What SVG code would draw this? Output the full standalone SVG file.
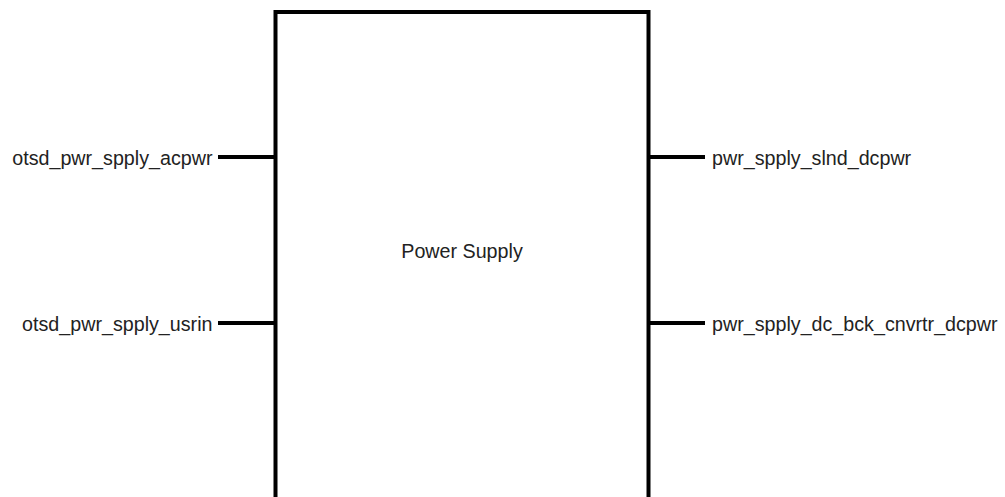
<svg xmlns="http://www.w3.org/2000/svg" width="1005" height="497" viewBox="0 0 1005 497">
<style>
.box{fill:#fff;stroke:#000;stroke-width:4}
.stub{stroke:#000;stroke-width:4;fill:none}
.t{font-family:"Liberation Sans",Arial,sans-serif;font-size:19.7px;fill:#222}
</style>
<rect width="1005" height="497" fill="#fff"/>
<g id="power_supply">
<rect class="box" x="275.5" y="12" width="373" height="500"/>
<text class="t" x="462" y="258" text-anchor="middle">Power Supply</text>
</g>
<g id="connectors">
<line class="stub" x1="218" y1="157" x2="275.5" y2="157"/>
<line class="stub" x1="218" y1="323" x2="275.5" y2="323"/>
<line class="stub" x1="648.5" y1="157" x2="705" y2="157"/>
<line class="stub" x1="648.5" y1="323" x2="705" y2="323"/>
</g>
<g id="port_otsd_pwr_spply_acpwr"><text class="t" x="212.5" y="164.5" text-anchor="end">otsd_pwr_spply_acpwr</text></g>
<g id="port_otsd_pwr_spply_usrin"><text class="t" x="212.5" y="330.5" text-anchor="end">otsd_pwr_spply_usrin</text></g>
<g id="port_pwr_spply_slnd_dcpwr"><text class="t" x="712" y="164.5">pwr_spply_slnd_dcpwr</text></g>
<g id="port_pwr_spply_dc_bck_cnvrtr_dcpwr"><text class="t" x="712" y="330.5">pwr_spply_dc_bck_cnvrtr_dcpwr</text></g>
</svg>
